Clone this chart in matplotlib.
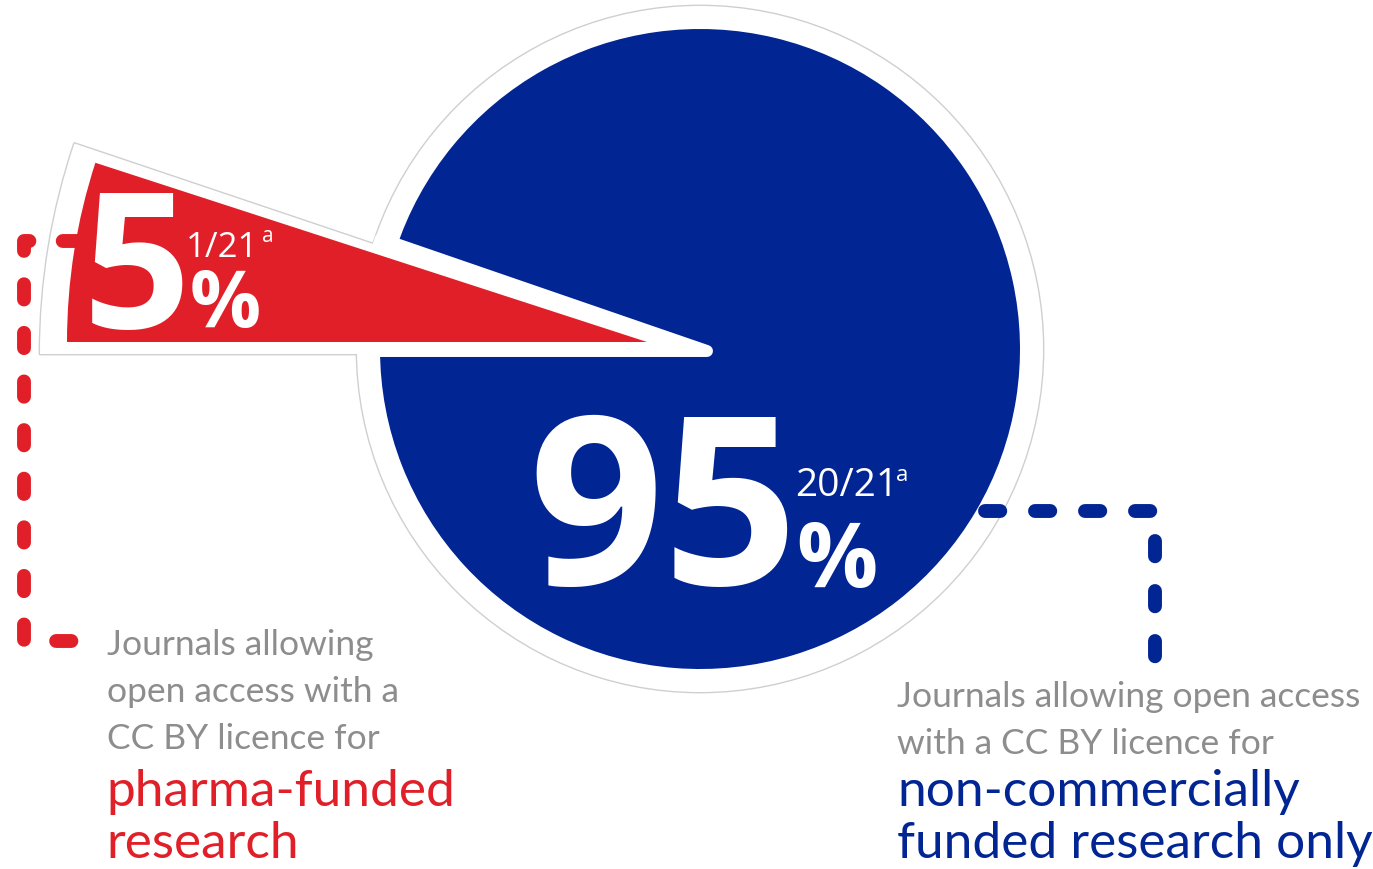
import matplotlib
matplotlib.use("Agg")
import matplotlib.pyplot as plt
from matplotlib.patches import Wedge, Circle

# data
shares = [95, 5]                      # percent: non-commercial only, pharma allowed
counts = ["20/21", "1/21"]
pct_labels = ["95", "5"]
gray_lines_left = ["Journals allowing", "open access with a", "CC BY licence for"]
red_lines = ["pharma-funded", "research"]
gray_lines_right = ["Journals allowing open access", "with a CC BY licence for"]
blue_lines = ["non-commercially", "funded research only"]

BLUE = "#022594"
RED = "#e11f28"
GRAY = "#8d8d8d"
HALO = "#cfcfcf"

fig = plt.figure(figsize=(13.73, 8.70), dpi=100)
ax = fig.add_axes([0, 0, 1, 1])
ax.set_xlim(0, 1373)
ax.set_ylim(870, 0)
ax.set_aspect("equal")
ax.axis("off")

cx, cy, r = 700, 350, 320
span_red = 360 * shares[1] / 100.0
# y axis is inverted, so angles grow clockwise on screen
a0 = 180
a1 = 180 + span_red

# halo (outline of the union)
for ec, lw, z in [(HALO, 2.0, 1), ("none", 0, 2)]:
    ax.add_patch(Circle((cx, cy), 343, facecolor="white", edgecolor=ec, lw=lw, zorder=z))
    ax.add_patch(Wedge((cx, cy + 5), 660, a0, a1 + 0.6, facecolor="white", edgecolor=ec,
                       lw=lw, joinstyle="round", zorder=z))

# blue slice
ax.add_patch(Wedge((cx, cy), r, a1, a0 + 360, facecolor=BLUE, edgecolor="none", zorder=3))

# white gap around the red slice
ax.add_patch(Wedge((cx + 7, cy + 2), 345, a0, a1 + 1, facecolor="white", edgecolor="white",
                   lw=8.6, joinstyle="round", zorder=4))

# red slice, pulled out
ax.add_patch(Wedge((647, 343), 580, a0, a1, facecolor=RED, edgecolor="none", zorder=5))

# dashed connectors
ax.plot([78, 24, 24, 80], [242, 242, 642, 642], color=RED, lw=10, dashes=(1.1, 2.4),
        dash_capstyle="round", dash_joinstyle="round", zorder=4.5)
ax.plot([985, 1155, 1155], [512, 512, 663], color=BLUE, lw=10, dashes=(1.1, 2.5),
        dash_capstyle="round", dash_joinstyle="round", zorder=2.5)

num_font = ["Open Sans", "DejaVu Sans"]
lab_font = ["Lato", "DejaVu Sans"]

# small slice labels
ax.text(83, 328, pct_labels[1], color="white", fontsize=136, fontweight="bold",
        family=num_font, ha="left", va="baseline", zorder=10)
ax.text(186, 257, counts[1], color="white", fontsize=25, family=num_font,
        ha="left", va="baseline", zorder=10)
ax.text(262, 242, "a", color="white", fontsize=15, family=num_font,
        ha="left", va="baseline", zorder=10)
ax.text(190, 327, "%", color="white", fontsize=57, fontweight="bold", family=num_font,
        ha="left", va="baseline", zorder=10)

# big slice labels
ax.text(528, 585, pct_labels[0], color="white", fontsize=170, fontweight="bold",
        family=num_font, ha="left", va="baseline", zorder=10)
ax.text(795, 496, counts[0], color="white", fontsize=28, family=num_font,
        ha="left", va="baseline", zorder=10)
ax.text(896, 481, "a", color="white", fontsize=16, family=num_font,
        ha="left", va="baseline", zorder=10)
ax.text(796, 587, "%", color="white", fontsize=65, fontweight="bold", family=num_font,
        ha="left", va="baseline", zorder=10)

# left caption
for i, s in enumerate(gray_lines_left):
    ax.text(107, 655 + 47 * i, s, color=GRAY, fontsize=25.5, family=lab_font,
            ha="left", va="baseline", zorder=10)
for i, s in enumerate(red_lines):
    ax.text(106, 806 + 52 * i, s, color=RED, fontsize=37, family=lab_font,
            ha="left", va="baseline", zorder=10)

# right caption
for i, s in enumerate(gray_lines_right):
    ax.text(897, 707 + 47 * i, s, color=GRAY, fontsize=25.5, family=lab_font,
            ha="left", va="baseline", zorder=10)
for i, s in enumerate(blue_lines):
    ax.text(897, 806 + 52 * i, s, color=BLUE, fontsize=37, family=lab_font,
            ha="left", va="baseline", zorder=10)

fig.savefig("out.png", dpi=100, facecolor="white")
